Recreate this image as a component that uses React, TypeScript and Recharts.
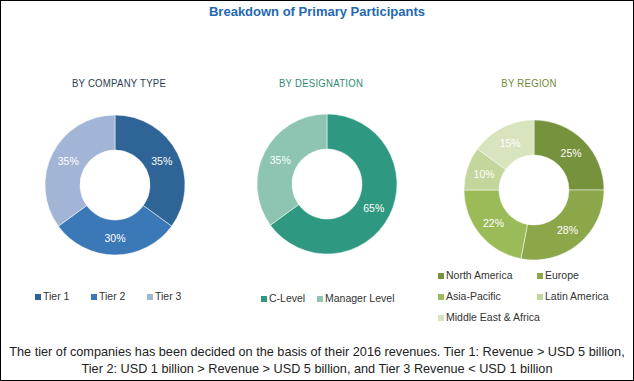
import React from 'react';
import { Cell, Legend, Pie, PieChart } from 'recharts';

const companyTypes = ['Tier 1', 'Tier 2', 'Tier 3'];
const companyShares = [35, 30, 35];

const designations = ['C-Level', 'Manager Level'];
const designationShares = [65, 35];

const regions = ['North America', 'Europe', 'Asia-Pacific', 'Latin America', 'Middle East & Africa'];
const regionShares = [25, 28, 22, 10, 15];

const SANS = '"Liberation Sans", Arial, sans-serif';
const RADIAN = Math.PI / 180;

type Slice = { name: string; value: number };

const toSlices = (names: string[], values: number[]): Slice[] =>
    names.map((name, i) => ({ name, value: values[i] }));

const renderLabel = (props: any) => {
    const { cx, cy, midAngle, innerRadius, outerRadius, value } = props;
    const r = (innerRadius + outerRadius) / 2;
    const x = cx + r * Math.cos(-midAngle * RADIAN);
    const y = cy + r * Math.sin(-midAngle * RADIAN);
    return (
        <text x={x} y={y} fill="#fff" fontFamily={SANS} fontSize={10.5}
            textAnchor="middle" dominantBaseline="central">
            {`${value}%`}
        </text>
    );
};

type DonutProps = {
    left: number
    title: string
    titleColor: string
    titleCenter: number
    names: string[]
    values: number[]
    colors: string[]
    cx: number
    cy: number
    legendTop: number
    legendLeft: number
    legendItemWidth: number
    legendWidth: number
};

function Donut(p: DonutProps): JSX.Element {
    const data = toSlices(p.names, p.values);
    const legendContent = () => (
        <div style={{ display: 'flex', flexWrap: 'wrap', width: p.legendWidth, rowGap: 8 }}>
            {p.names.map((name, i) => (
                <div key={name} style={{
                    width: p.legendItemWidth, display: 'flex', alignItems: 'center', whiteSpace: 'nowrap',
                    fontFamily: SANS, fontSize: 10.5, color: '#333', lineHeight: '13px'
                }}>
                    <span style={{ width: 6, height: 6, background: p.colors[i], marginRight: 2, display: 'inline-block', flex: 'none' }}/>
                    {name}
                </div>
            ))}
        </div>
    );
    return (
        <div style={{ position: 'absolute', left: p.left, top: 0, width: 211, height: 381 }}>
            <div style={{
                position: 'absolute', top: 77, left: p.titleCenter - 100, width: 200, textAlign: 'center',
                transform: 'scaleX(0.87)', transformOrigin: '100px 0',
                fontFamily: SANS, fontSize: 11, letterSpacing: 0.3, color: p.titleColor
            }}>{p.title}</div>
            <PieChart width={211} height={381} style={{ position: 'absolute', left: 0, top: 0 }}>
                <Pie
                    data={data}
                    dataKey="value"
                    nameKey="name"
                    cx={p.cx}
                    cy={p.cy}
                    innerRadius={35}
                    outerRadius={70}
                    startAngle={90}
                    endAngle={-270}
                    stroke="#fff"
                    strokeWidth={0.5}
                    labelLine={false}
                    label={renderLabel}
                    isAnimationActive={false}>
                    {data.map((_entry, index) =>
                        <Cell key={`cell-${index}`} fill={p.colors[index % p.colors.length]}/>)}
                </Pie>
                <Legend content={legendContent}
                    wrapperStyle={{ position: 'absolute', top: p.legendTop, left: p.legendLeft, width: p.legendWidth, bottom: 'auto' }}/>
            </PieChart>
        </div>
    );
}

export default function App(): JSX.Element {
    return (
        <div style={{ position: 'absolute', left: 0, top: 0, width: 634, height: 381, background: '#fff' }}>
            <div style={{
                position: 'absolute', top: 4, left: 0, width: 634, textAlign: 'center',
                fontFamily: SANS, fontWeight: 'bold', fontSize: 13, color: '#2468b2'
            }}>Breakdown of Primary Participants</div>
            <Donut left={0} title="BY COMPANY TYPE" titleColor="#2b3d52" titleCenter={119}
                names={companyTypes} values={companyShares}
                colors={['#2e6496', '#3b78b8', '#a3b5d6']}
                cx={110} cy={180} legendTop={290} legendLeft={35} legendItemWidth={56} legendWidth={175}/>
            <Donut left={211} title="BY DESIGNATION" titleColor="#2e8b76" titleCenter={110}
                names={designations} values={designationShares}
                colors={['#2e9880', '#8dc5b2']}
                cx={111} cy={179} legendTop={292} legendLeft={50} legendItemWidth={56} legendWidth={150}/>
            <Donut left={422} title="BY REGION" titleColor="#6f8a35" titleCenter={107}
                names={regions} values={regionShares}
                colors={['#76923c', '#8ca64a', '#9bbb59', '#c3d69b', '#d7e4bd']}
                cx={107} cy={185} legendTop={269} legendLeft={16} legendItemWidth={99} legendWidth={198}/>
            <div style={{
                position: 'absolute', top: 344, left: 0, width: 634, textAlign: 'center',
                fontFamily: SANS, fontSize: 12.7, lineHeight: '17px', color: '#222', whiteSpace: 'nowrap'
            }}>
                The tier of companies has been decided on the basis of their 2016 revenues. Tier 1: Revenue &gt; USD 5 billion,
                <br/>
                Tier 2: USD 1 billion &gt; Revenue &gt; USD 5 billion, and Tier 3 Revenue &lt; USD 1 billion
            </div>
            <div style={{
                position: 'absolute', left: 0, top: 0, width: 634, height: 381,
                boxSizing: 'border-box', border: '1px solid #000', pointerEvents: 'none'
            }}/>
        </div>
    );
}
